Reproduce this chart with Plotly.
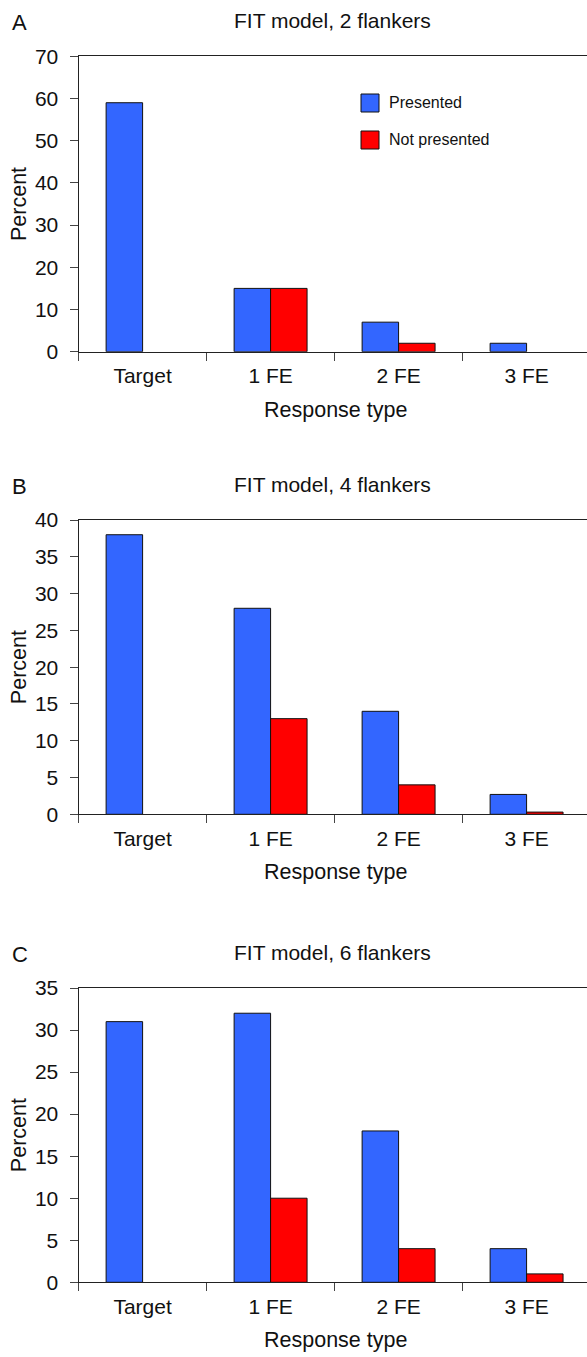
"""FIT model simulation: response type distribution for 2, 4 and 6 flankers."""

import plotly.graph_objects as go

CATEGORIES = ["Target", "1 FE", "2 FE", "3 FE"]

# None = no bar drawn in the original
PRESENTED_2 = [59, 15, 7, 2]
NOT_PRESENTED_2 = [None, 15, 2, None]

PRESENTED_4 = [38, 28, 14, 2.7]
NOT_PRESENTED_4 = [None, 13, 4, 0.3]

PRESENTED_6 = [31, 32, 18, 4]
NOT_PRESENTED_6 = [None, 10, 4, 1]

PANEL_LETTERS = ["A", "B", "C"]
PANEL_TITLES = ["FIT model, 2 flankers", "FIT model, 4 flankers", "FIT model, 6 flankers"]
Y_MAX = [70, 40, 35]
Y_DTICK = [10, 5, 5]

BLUE = "#3366ff"
RED = "#ff0000"
FONT = "Liberation Sans, Arial, Helvetica, sans-serif"

W, H = 587, 1357
X0 = 78.6  # left edge of the plot area (px)
# plot area top / bottom (px from top) per panel
PANEL_TOP = [56.3, 520.0, 988.0]
PANEL_BOT = [351.7, 814.3, 1282.3]


def py(px):
    return 1 - px / H


def px_x(px):
    return px / W


fig = go.Figure()
series = [
    (PRESENTED_2, NOT_PRESENTED_2),
    (PRESENTED_4, NOT_PRESENTED_4),
    (PRESENTED_6, NOT_PRESENTED_6),
]

annotations = []
shapes = []
layout = {}
for i, (pres, notp) in enumerate(series):
    n = "" if i == 0 else str(i + 1)
    for name, vals, col in (("Presented", pres, BLUE), ("Not presented", notp, RED)):
        fig.add_trace(go.Bar(
            x=CATEGORIES, y=vals, name=name,
            marker=dict(color=col, line=dict(color="#111", width=1)),
            xaxis="x" + n, yaxis="y" + n, showlegend=False,
        ))
    dom_y = [py(PANEL_BOT[i]), py(PANEL_TOP[i])]
    layout["xaxis" + n] = dict(
        domain=[px_x(X0), 1], anchor="y" + n, type="category",
        range=[-0.5, 3.472], tickson="boundaries", ticks="outside", ticklen=8,
        tickcolor="#444", showline=True, linecolor="#222", linewidth=1.2,
        mirror=True, showgrid=False, automargin=False,
        tickfont=dict(size=21, color="#111"), ticklabelstandoff=5,
    )
    layout["yaxis" + n] = dict(
        domain=dom_y, anchor="x" + n, range=[0, Y_MAX[i]], dtick=Y_DTICK[i],
        tick0=0, ticks="outside", ticklen=8, tickcolor="#444", showline=True,
        linecolor="#222", linewidth=1.2, showgrid=False, zeroline=False,
        automargin=False, tickfont=dict(size=21, color="#111"),
        ticklabelstandoff=7,
    )
    top, bot = PANEL_TOP[i], PANEL_BOT[i]
    annotations += [
        dict(text=PANEL_LETTERS[i], x=px_x(10), y=py(top - 34), xref="paper",
             yref="paper", xanchor="left", yanchor="middle", showarrow=False,
             font=dict(size=22, color="#111")),
        dict(text=PANEL_TITLES[i], x=px_x(332), y=py(top - 36), xref="paper",
             yref="paper", xanchor="center", yanchor="middle", showarrow=False,
             font=dict(size=21, color="#111")),
        dict(text="Percent", x=px_x(19), y=py((top + bot) / 2), xref="paper",
             yref="paper", xanchor="center", yanchor="middle", textangle=-90,
             showarrow=False, font=dict(size=21.5, color="#111")),
        dict(text="Response type", x=px_x(335), y=py(bot + 58), xref="paper",
             yref="paper", xanchor="center", yanchor="middle", showarrow=False,
             font=dict(size=21.5, color="#111")),
    ]

# legend drawn by hand to match the square swatches of the original
for k, (label, col) in enumerate((("Presented", BLUE), ("Not presented", RED))):
    cy = 103 + 37 * k
    shapes.append(dict(type="rect", xref="paper", yref="paper",
                       x0=px_x(361), x1=px_x(379), y0=py(cy + 9), y1=py(cy - 9),
                       fillcolor=col, line=dict(color="#111", width=1)))
    annotations.append(dict(text=label, x=px_x(387), y=py(cy), xref="paper",
                            yref="paper", xanchor="left", yanchor="middle",
                            showarrow=False, font=dict(size=16, color="#111")))

fig.update_layout(
    width=W, height=H,
    margin=dict(l=0, r=0, t=0, b=0),
    paper_bgcolor="white", plot_bgcolor="white",
    font=dict(family=FONT, color="#111"),
    barmode="group", bargap=0.43, bargroupgap=0,
    showlegend=False,
    annotations=annotations, shapes=shapes,
    **layout,
)

fig.write_html(
    "out.html",
    config={"displayModeBar": False},
    post_script="document.body.style.margin='0';document.body.style.overflow='hidden';",
)
